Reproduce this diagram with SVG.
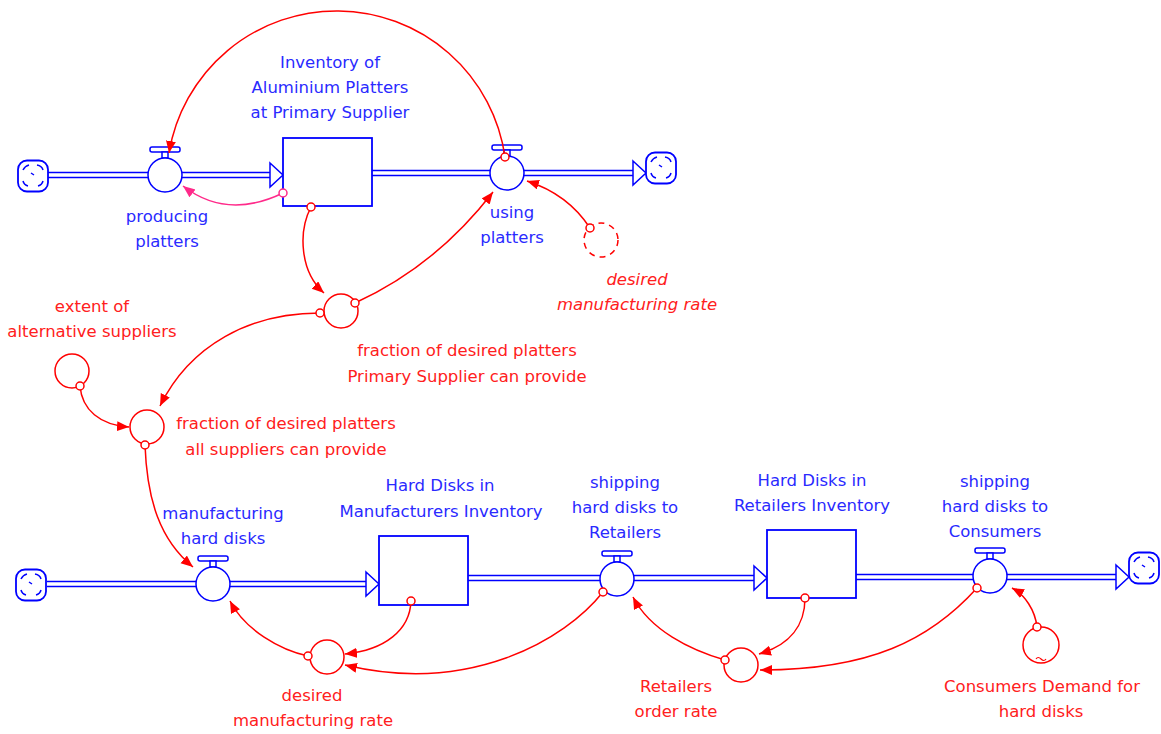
<svg xmlns="http://www.w3.org/2000/svg" width="1161" height="734" viewBox="0 0 1161 734">
<style>
.bt{font-family:"DejaVu Sans","Liberation Sans",sans-serif;font-size:16.5px;fill:#2a2aff;text-anchor:middle}
.rt{font-family:"DejaVu Sans","Liberation Sans",sans-serif;font-size:16.5px;fill:#ff2020;text-anchor:middle}
.it{font-style:italic}
.pipeo{stroke:#0000ff;stroke-width:6.5;fill:none}
.pipei{stroke:#fff;stroke-width:3.5;fill:none}
.parr{fill:#fff;stroke:#0000ff;stroke-width:1.5}
.stock{fill:#fff;stroke:#0000ff;stroke-width:1.8}
.valve{fill:#fff;stroke:#0000ff;stroke-width:1.5}
.aux{fill:#fff;stroke:#ff0000;stroke-width:1.5}
.shadow{fill:#fff;stroke:#ff0000;stroke-width:1.5;stroke-dasharray:6 5}
.cloud{fill:#fff;stroke:#0000ff;stroke-width:1.8}
.cd{fill:none;stroke:#0000ff;stroke-width:1.5}
.lk{fill:none;stroke:#ff0000;stroke-width:1.5;marker-end:url(#ah)}
.lkp{fill:none;stroke:#ff2a8a;stroke-width:1.5;marker-end:url(#ahp)}
.org{fill:#fff;stroke:#ff0000;stroke-width:1.5}
.orgp{fill:#fff;stroke:#ff2a8a;stroke-width:1.5}
</style>
<defs>
<marker id="ah" markerUnits="userSpaceOnUse" markerWidth="13" markerHeight="11" refX="12" refY="5" orient="auto"><path d="M0,0 L12,5 L0,10 z" fill="#ff0000"/></marker>
<marker id="ahp" markerUnits="userSpaceOnUse" markerWidth="13" markerHeight="11" refX="12" refY="5" orient="auto"><path d="M0,0 L12,5 L0,10 z" fill="#ff2a8a"/></marker>
<g id="cloudShape">
<rect x="-15" y="-15.5" width="30" height="31" rx="9" class="cloud"/>
<path d="M-10,-6 q2,-4 6,-5 M4,-11 q5,1 6,5 M10,5 q-1,4 -5,5 M-5,10 q-4,-1 -5,-5 M-2,-3 l3,2" class="cd"/>
</g>
<g id="valveShape">
<rect x="-15" y="-28" width="30" height="5" rx="2" class="valve"/>
<rect x="-3" y="-23" width="6" height="6" class="valve"/>
<circle r="17" class="valve"/>
</g>
</defs>
<rect width="1161" height="734" fill="#fff"/>

<g id="pipes">
<path d="M48,175 H270 M372,173 H633 M47,584 H366 M468,578 H754 M856,577 H1116" class="pipeo"/>
<path d="M48,175 H270 M372,173 H633 M47,584 H366 M468,578 H754 M856,577 H1116" class="pipei"/>
<polygon points="270,163 283,175 270,187" class="parr"/>
<polygon points="633,161 646,173 633,185" class="parr"/>
<polygon points="366,572 379,584 366,596" class="parr"/>
<polygon points="754,566 767,578 754,590" class="parr"/>
<polygon points="1116,565 1129,577 1116,589" class="parr"/>
</g>

<g id="cloud1"><use href="#cloudShape" x="33" y="176"/></g>
<g id="cloud2"><use href="#cloudShape" x="661" y="168"/></g>
<g id="cloud3"><use href="#cloudShape" x="31" y="585"/></g>
<g id="cloud4"><use href="#cloudShape" x="1144" y="568"/></g>

<g id="inventory-platters">
<rect x="283" y="138" width="89" height="68" class="stock"/>
<text class="bt" x="330" y="68">Inventory of</text>
<text class="bt" x="330" y="93">Aluminium Platters</text>
<text class="bt" x="330" y="118">at Primary Supplier</text>
</g>
<g id="producing-platters">
<use href="#valveShape" x="165" y="175"/>
<text class="bt" x="167" y="222">producing</text>
<text class="bt" x="167" y="247">platters</text>
</g>
<g id="using-platters">
<use href="#valveShape" x="507" y="173"/>
<text class="bt" x="512" y="218">using</text>
<text class="bt" x="512" y="243">platters</text>
</g>
<g id="desired-rate-shadow">
<circle cx="601" cy="240" r="17" class="shadow"/>
<text class="rt it" x="637" y="285">desired</text>
<text class="rt it" x="637" y="310">manufacturing rate</text>
</g>
<g id="fraction-primary">
<circle cx="341" cy="311" r="17" class="aux"/>
<text class="rt" x="467" y="356">fraction of desired platters</text>
<text class="rt" x="467" y="382">Primary Supplier can provide</text>
</g>
<g id="extent-alternative">
<circle cx="72" cy="371" r="17" class="aux"/>
<text class="rt" x="92" y="312">extent of</text>
<text class="rt" x="92" y="337">alternative suppliers</text>
</g>
<g id="fraction-all">
<circle cx="147" cy="427" r="17" class="aux"/>
<text class="rt" x="286" y="429">fraction of desired platters</text>
<text class="rt" x="286" y="455">all suppliers can provide</text>
</g>
<g id="manufacturing-hard-disks">
<use href="#valveShape" x="213" y="584"/>
<text class="bt" x="223" y="519">manufacturing</text>
<text class="bt" x="223" y="544">hard disks</text>
</g>
<g id="manufacturers-inventory">
<rect x="379" y="536" width="89" height="69" class="stock"/>
<text class="bt" x="440" y="491">Hard Disks in</text>
<text class="bt" x="441" y="517">Manufacturers Inventory</text>
</g>
<g id="desired-manufacturing-rate">
<circle cx="327" cy="657" r="17" class="aux"/>
<text class="rt" x="312" y="701">desired</text>
<text class="rt" x="313" y="726">manufacturing rate</text>
</g>
<g id="shipping-retailers">
<use href="#valveShape" x="617" y="579"/>
<text class="bt" x="625" y="488">shipping</text>
<text class="bt" x="625" y="513">hard disks to</text>
<text class="bt" x="625" y="538">Retailers</text>
</g>
<g id="retailers-inventory">
<rect x="767" y="530" width="89" height="68" class="stock"/>
<text class="bt" x="812" y="486">Hard Disks in</text>
<text class="bt" x="812" y="511">Retailers Inventory</text>
</g>
<g id="retailers-order-rate">
<circle cx="741" cy="665" r="17" class="aux"/>
<text class="rt" x="676" y="692">Retailers</text>
<text class="rt" x="676" y="717">order rate</text>
</g>
<g id="shipping-consumers">
<use href="#valveShape" x="990" y="576"/>
<text class="bt" x="995" y="487">shipping</text>
<text class="bt" x="995" y="512">hard disks to</text>
<text class="bt" x="995" y="537">Consumers</text>
</g>
<g id="consumers-demand">
<circle cx="1041" cy="645" r="18" class="aux"/>
<path d="M1036,659 q2,-3 5,0 t5,0" fill="none" stroke="#ff0000" stroke-width="1.2"/>
<text class="rt" x="1042" y="692">Consumers Demand for</text>
<text class="rt" x="1041" y="717">hard disks</text>
</g>

<g id="connectors">
<path d="M505,157 A170,170 0 0 0 169,153" class="lk"/>
<path d="M283,193 Q227,220 183,186" class="lkp"/>
<path d="M311,207 C298,232 300,272 324,293" class="lk"/>
<path d="M355,303 Q436,266 493,192" class="lk"/>
<path d="M320,313 C250,313 190,345 160,406" class="lk"/>
<path d="M80,386 C82,410 100,425 129,427" class="lk"/>
<path d="M145,445 C147,500 160,540 193,567" class="lk"/>
<path d="M590,228 C575,205 555,190 527,181" class="lk"/>
<path d="M308,656 C280,650 245,630 230,601" class="lk"/>
<path d="M411,601 C410,630 385,650 345,654" class="lk"/>
<path d="M603,592 C565,640 470,695 345,665" class="lk"/>
<path d="M725,660 C690,650 650,630 633,597" class="lk"/>
<path d="M805,598 C805,625 790,645 759,654" class="lk"/>
<path d="M977,588 C930,640 870,670 760,670" class="lk"/>
<path d="M1037,627 C1035,610 1025,595 1012,588" class="lk"/>
<circle cx="505" cy="157" r="4" class="org"/>
<circle cx="283" cy="193" r="4" class="orgp"/>
<circle cx="311" cy="207" r="4" class="org"/>
<circle cx="355" cy="303" r="4" class="org"/>
<circle cx="320" cy="313" r="4" class="org"/>
<circle cx="80" cy="386" r="4" class="org"/>
<circle cx="145" cy="445" r="4" class="org"/>
<circle cx="590" cy="228" r="4" class="org"/>
<circle cx="308" cy="656" r="4" class="org"/>
<circle cx="411" cy="601" r="4" class="org"/>
<circle cx="603" cy="592" r="4" class="org"/>
<circle cx="725" cy="660" r="4" class="org"/>
<circle cx="805" cy="598" r="4" class="org"/>
<circle cx="977" cy="588" r="4" class="org"/>
<circle cx="1037" cy="627" r="4" class="org"/>
</g>
</svg>
